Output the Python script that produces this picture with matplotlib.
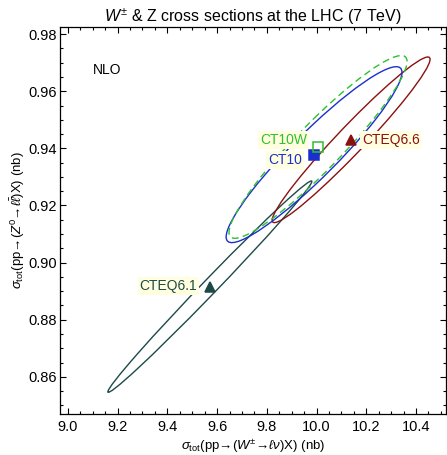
import numpy as np
import matplotlib
matplotlib.use("Agg")
import matplotlib.pyplot as plt
from matplotlib.patches import Ellipse
from matplotlib.ticker import MultipleLocator, FormatStrFormatter

plt.rcParams["font.family"] = ["Liberation Sans", "DejaVu Sans"]
plt.rcParams["mathtext.fontset"] = "custom"
plt.rcParams["mathtext.rm"] = "Liberation Sans"
plt.rcParams["mathtext.it"] = "Liberation Sans:italic"
plt.rcParams["mathtext.bf"] = "Liberation Sans:bold"

# PDF sets: central values (W, Z) in nb
pdf_names = ["CTEQ6.1", "CTEQ6.6", "CT10", "CT10W"]
sigma_w = [9.571, 10.139, 9.990, 10.006]
sigma_z = [0.8916, 0.9430, 0.9378, 0.9405]
# ellipse half-extents in W and Z, and W-Z correlation
half_w = [0.410, 0.3175, 0.3535, 0.358]
half_z = [0.0370, 0.0290, 0.0308, 0.0320]
corr = [0.9950, 0.9720, 0.935, 0.935]

colors = ["#1c4a48", "#8b1010", "#1a2fcc", "#2fbf2f"]
line_styles = ["-", "-", "-", (0, (5, 3))]
markers = ["^", "^", "s", "s"]
filled = [True, True, True, False]

# label positions (x, y, horizontal alignment)
label_x = [9.519, 10.183, 9.941, 9.961]
label_y = [0.8918, 0.9429, 0.9359, 0.9429]
label_ha = ["right", "left", "right", "right"]

fig = plt.figure(figsize=(4.47, 4.55), dpi=100)
ax = fig.add_axes([0.134, 0.0901, 0.864, 0.8506])

for i, name in enumerate(pdf_names):
    rho = corr[i]
    cov = np.array([[half_w[i] ** 2, rho * half_w[i] * half_z[i]],
                    [rho * half_w[i] * half_z[i], half_z[i] ** 2]])
    vals, vecs = np.linalg.eigh(cov)
    big = vecs[:, 1]
    ang = np.degrees(np.arctan2(big[1], big[0]))
    ell = Ellipse((sigma_w[i], sigma_z[i]), 2 * np.sqrt(vals[1]), 2 * np.sqrt(vals[0]),
                  angle=ang, fill=False, edgecolor=colors[i], lw=1.0,
                  linestyle=line_styles[i], zorder=2)
    ax.add_patch(ell)

for i, name in enumerate(pdf_names):
    ax.plot(sigma_w[i], sigma_z[i], markers[i], ms=7.5 if markers[i] == "^" else 7,
            color=colors[i], mfc=colors[i] if filled[i] else "none",
            mew=1.1, zorder=4)
    ax.text(label_x[i], label_y[i], name, color=colors[i], fontsize=10,
            ha=label_ha[i], va="center", zorder=5,
            bbox=dict(boxstyle="square,pad=0.12", fc="#ffffe0", ec="none"))

ax.text(9.10, 0.9674, "NLO", fontsize=10, ha="left", va="center")

ax.set_xlim(8.968, 10.521)
ax.set_ylim(0.847, 0.9825)
ax.xaxis.set_major_locator(MultipleLocator(0.2))
ax.xaxis.set_minor_locator(MultipleLocator(0.05))
ax.yaxis.set_major_locator(MultipleLocator(0.02))
ax.yaxis.set_minor_locator(MultipleLocator(0.005))
ax.xaxis.set_major_formatter(FormatStrFormatter("%.1f"))
ax.yaxis.set_major_formatter(FormatStrFormatter("%.2f"))
ax.tick_params(which="both", direction="in", top=True, right=True,
               labelsize=10.5, width=0.8)
ax.tick_params(axis="x", which="major", length=4, pad=4)
ax.tick_params(axis="y", which="major", length=4, pad=2)
ax.tick_params(which="minor", length=2)
for sp in ax.spines.values():
    sp.set_linewidth(0.9)

ax.set_xlabel(r"$\sigma_{\mathrm{tot}}$(pp→($W^{\pm}$→$\ell\nu$)X) (nb)",
              fontsize=9.5, labelpad=3)
ax.set_ylabel(r"$\sigma_{\mathrm{tot}}$(pp→($Z^{0}$→$\ell\bar{\ell}$)X) (nb)",
              fontsize=9.5, labelpad=1)
ax.set_title(r"$W^{\pm}$ & Z cross sections at the LHC (7 TeV)", fontsize=11.5, pad=3)

fig.savefig("out.png", dpi=100)
